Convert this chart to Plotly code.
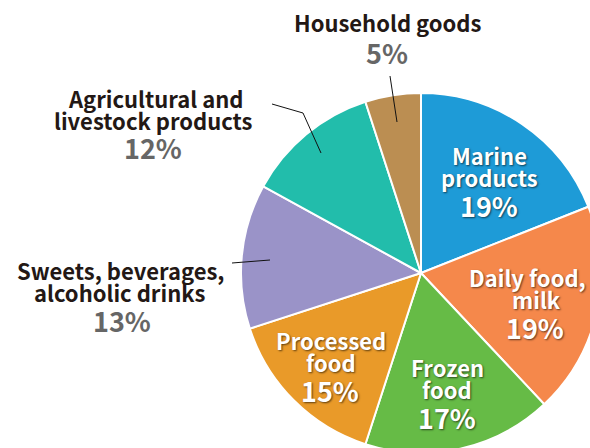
import plotly.graph_objects as go

categories = ["Marine products", "Daily food, milk", "Frozen food", "Processed food",
              "Sweets, beverages, alcoholic drinks", "Agricultural and livestock products",
              "Household goods"]
values = [19, 19, 17, 15, 13, 12, 5]
colors = ["#1E9BD7", "#F5884B", "#66BB46", "#E99A29", "#9A93C8", "#22BDAB", "#BB8E52"]

# label line splits
label_lines = [["Marine", "products"], ["Daily food,", "milk"], ["Frozen", "food"],
               ["Processed", "food"], ["Sweets, beverages,", "alcoholic drinks"],
               ["Agricultural and", "livestock products"], ["Household goods"]]

W, H = 610, 460
FONT = "Noto Sans CJK JP"


def P(px, py):
    return px / W, 1 - py / H


fig = go.Figure(go.Pie(
    labels=categories, values=values, sort=False, direction="clockwise", rotation=0,
    marker=dict(colors=colors, line=dict(color="white", width=2)),
    textinfo="none", hoverinfo="label+percent", showlegend=False,
    domain=dict(x=[241 / W, 601 / W], y=[(H - 453) / H, (H - 93) / H]),
))

# (name line centers..., percent center, inside?)
placements = [
    ([(489, 155), (489, 177)], (489, 205), True),
    ([(527, 277), (536, 299)], (535, 327), True),
    ([(447, 367), (447, 389)], (447, 417), True),
    ([(331, 340), (331, 362)], (330, 390), True),
    ([(120, 270), (120, 292)], (122, 320), False),
    ([(155, 98), (153, 120)], (153, 148), False),
    ([(387, 22)], (387, 52), False),
]

anns = []
shadow = "1px 1px 2px rgba(0,0,0,0.6)"
for lines, (name_pos, pct_pos, inside), v in zip(label_lines, placements, values):
    for t, (px, py) in zip(lines, name_pos):
        x, y = P(px, py)
        anns.append(dict(x=x, y=y, xref="paper", yref="paper", text=f"<b>{t}</b>",
                         showarrow=False, xanchor="center", yanchor="middle",
                         font=dict(family=FONT, size=22,
                                   color="white" if inside else "#231815",
                                   shadow=shadow if inside else "none")))
    x, y = P(*pct_pos)
    anns.append(dict(x=x, y=y, xref="paper", yref="paper", text=f"<b>{v}%</b>",
                     showarrow=False, xanchor="center", yanchor="middle",
                     font=dict(family=FONT, size=27,
                               color="white" if inside else "#666666",
                               shadow=shadow if inside else "none")))

shapes = []
for pts in [[(390, 76), (397, 122)], [(272, 104), (303, 113), (321, 153)], [(232, 263), (270, 260)]]:
    path = "M " + " L ".join(f"{P(a, b)[0]},{P(a, b)[1]}" for a, b in pts)
    shapes.append(dict(type="path", path=path, xref="paper", yref="paper",
                       line=dict(color="#111111", width=1)))

fig.update_layout(width=W, height=H, margin=dict(l=0, r=0, t=0, b=0),
                  paper_bgcolor="white", plot_bgcolor="white",
                  annotations=anns, shapes=shapes)

fig.write_html("out.html", post_script=
    "document.body.style.margin='0';document.body.style.overflow='hidden';"
    "document.documentElement.style.overflow='hidden';")
